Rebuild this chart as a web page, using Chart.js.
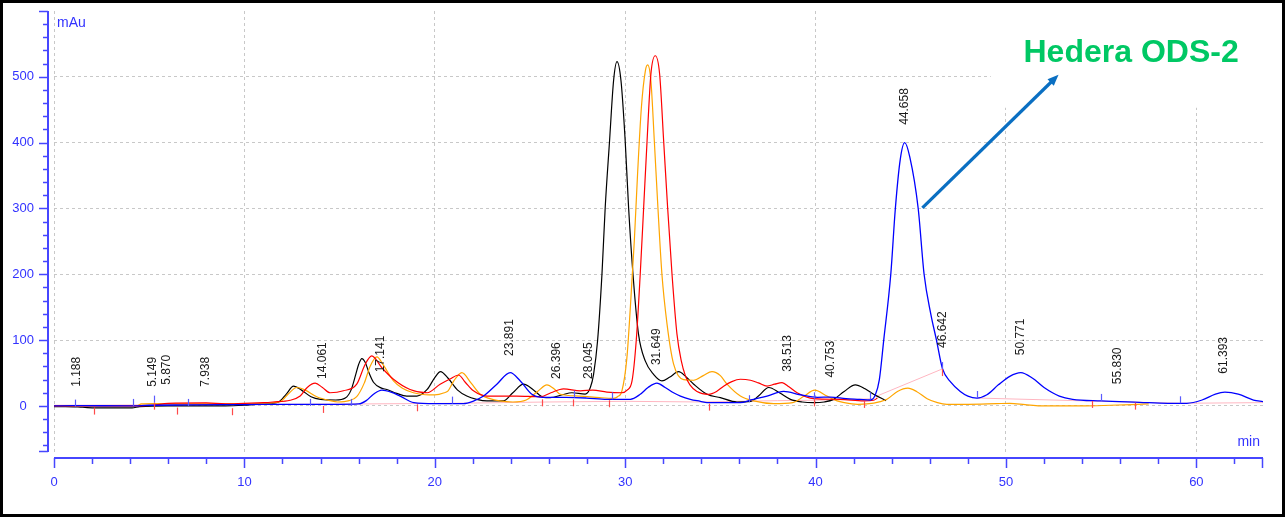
<!DOCTYPE html>
<html><head><meta charset="utf-8">
<script src="https://cdn.jsdelivr.net/npm/chart.js@4.4.1/dist/chart.umd.min.js"></script>
<style>html,body{margin:0;padding:0;background:#fff;}canvas{display:block;}</style>
</head><body>
<canvas id="c" width="1285" height="517"></canvas>
<script>
// ---- data (time in min, signal in mAu) ----
const blackTrace = [[0,-1],[0.6,-1],[1.5,-2],[2.2,-3],[4.1,-3],[4.5,-1],[6,0],[9,0],[10,1],[11,3],[11.8,6],[12.2,18],[12.58,30],[13.0,24],[13.5,14],[14.0,10],[14.8,9],[15.3,12],[15.6,24],[15.85,48],[16.0,63],[16.17,72],[16.35,66],[16.55,50],[16.78,36],[17.2,27],[17.48,25],[18.0,19],[18.53,15],[19.06,15],[19.6,25],[20.0,43],[20.3,52],[20.7,42],[21.2,24],[21.68,15],[22.2,10],[22.74,7.6],[23.6,7.6],[24.1,20],[24.66,33],[25.2,24],[25.71,13],[26.06,12.6],[26.7,17],[27.2,20],[27.9,18],[28.17,28],[28.34,48],[28.55,99],[28.78,200],[28.95,301],[29.18,403],[29.39,494],[29.57,523],[29.78,494],[30.0,403],[30.18,301],[30.41,200],[30.70,109],[31.06,68],[31.49,48],[31.93,38],[32.35,44],[32.81,52],[33.2,44],[33.6,33],[34.3,17.7],[35.0,12.6],[35.87,6],[36.6,7],[37.0,15],[37.54,28],[38.1,20],[38.68,10],[39.3,6],[39.9,5],[40.45,6],[40.95,10],[41.5,22],[42.09,32],[42.6,26],[43.05,17.7],[43.7,8]];
const orangeTrace = [[0,0],[4.3,0],[4.6,3],[5.2,3.5],[7,3],[10,3],[11,4],[11.9,7],[12.3,18],[12.75,28],[13.2,24],[13.8,14],[14.5,8],[14.9,6],[15.5,8],[15.9,14],[16.3,35],[16.6,60],[16.96,74.5],[17.3,62],[17.83,38],[18.3,27],[18.88,20],[19.5,17],[20.0,16.7],[20.5,20],[20.7,23],[21.0,38],[21.42,50.6],[21.9,35],[22.39,17.7],[22.9,11],[23.4,7.6],[24.1,6],[24.8,9],[25.4,22],[25.89,32],[26.3,25],[26.59,17.7],[27.6,15],[28.65,12.6],[29.39,11.6],[29.6,14],[29.83,23],[30.09,73],[30.27,149],[30.48,251],[30.65,352],[30.85,453],[31.06,509],[31.18,518],[31.35,494],[31.53,403],[31.72,301],[31.93,200],[32.2,124],[32.54,64],[33.07,40],[33.6,39],[34.1,46],[34.56,52],[35.0,46],[35.35,33],[36.05,15],[36.75,7.6],[37.8,3.5],[38.8,5],[39.4,15],[39.95,24],[40.6,15],[41.13,7.6],[41.5,5],[42.2,2.5],[42.7,3],[43.4,6.6],[43.75,10],[44.3,22],[44.85,27],[45.3,22],[45.86,11],[46.4,5],[46.9,2.5],[48,2.5],[49.5,3.5],[50.2,4],[51,2],[51.8,0],[54,0],[55.5,1],[56.6,2],[57.5,3]];
const redTrace = [[0,0],[4.5,0],[5.2,1],[6.0,4],[8,4.5],[9,3],[10,4],[11,5],[11.5,6],[12.4,8.6],[12.93,15],[13.3,28],[13.72,34.5],[14.1,28],[14.5,20],[15.2,23],[15.9,33],[16.34,63],[16.69,76],[17.22,58],[17.83,40.5],[18.7,25],[19.6,20],[20.28,33],[20.8,41],[21.25,47],[21.6,36],[22.03,23],[22.74,15],[24.3,15],[25.54,14],[26.1,20],[26.76,26],[27.64,23],[28.3,24],[29.04,21],[29.83,20],[30.1,24],[30.36,38],[30.58,99],[30.79,200],[30.97,301],[31.15,403],[31.35,504],[31.58,532],[31.81,504],[32.02,403],[32.23,301],[32.46,200],[32.72,109],[32.95,68],[33.16,46],[33.4,32],[33.77,22],[34.38,17.7],[34.8,22],[35.17,30],[35.6,37],[36.05,40.5],[36.58,39],[37.0,35],[37.45,30],[37.85,33],[38.24,35.5],[38.6,29],[39.03,20],[39.9,11],[41.3,10],[42.53,7.6],[43.05,8.6],[43.25,12]];
const blueTrace = [[0,0],[1.0,0.5],[4.0,0],[5.0,1],[7.0,1.5],[10,2],[13,2.5],[15,2.5],[16.0,3],[16.4,8],[16.78,17.7],[17.22,24],[17.7,21],[18.18,15],[18.9,5],[20,3.5],[21.5,3.5],[22.0,7],[22.56,15],[23.26,33],[23.96,50.6],[24.49,38],[25.1,17.7],[25.7,13],[26.9,13],[27.96,12],[29.04,10],[30.27,10],[30.79,17.7],[31.2,28],[31.67,34.5],[32.1,28],[32.54,20],[32.9,15],[33.42,10],[33.95,7],[34.3,5],[35.35,5],[36.05,5],[36.6,9],[37.45,15],[38.32,22],[39.2,17],[40.1,13],[40.78,13.5],[41.6,11],[42.3,10],[42.88,9],[43.14,17],[43.35,40],[43.58,100],[43.95,200],[44.19,300],[44.45,375],[44.68,400],[44.95,378],[45.39,300],[45.7,200],[46.05,140],[46.35,100],[46.66,57],[47.1,36],[47.6,22],[48.0,15],[48.47,12],[49.0,17],[49.6,32],[50.2,45],[50.78,50.6],[51.4,42],[52.0,28],[52.8,15],[53.5,10],[55.0,7.6],[57,5.5],[58.5,4],[59.5,4],[60.3,9],[61.0,18],[61.5,21],[62.2,18],[63.0,9],[63.5,6.5]];
const pinkBaseline = [[0,1],[10,2],[16.1,3],[21,4],[26,6],[30,7],[34,6],[38,8],[41,9],[43.1,11],[43.12,null],[43.14,14],[46.64,56],[46.66,null],[48.47,12],[55,7],[59.14,4],[63.5,5]];

const peakTimes  = [1.188,5.149,5.870,7.938,14.061,17.141,23.891,26.396,28.045,31.649,38.513,40.753,44.658,46.642,50.771,55.830,61.393];
const peakLabelAt= [29,29,32,29,41,51,76,41,41,62,52,43,427,88,77,33,49];

const blueMarkTimes = [1.1,4.13,5.27,7.02,13.45,15.59,20.93,27.29,29.3,36.49,39.9,42.88,46.64,48.47,55.0,59.14];
const blueMarkBase  = [-1,0,5,0,0,0,3.5,12.6,10,5.6,10,10,56,12,7.6,4];
const redMarkTimes  = [2.12,5.27,6.45,9.33,14.15,19.09,25.63,27.24,29.13,34.38,39.9,42.53,46.64,54.5,56.77];
const redMarkBase   = [-2.5,5,-2.5,-3.5,0,2.5,10,10,8.6,3.5,10,7.6,56,7.6,5];

const xTicks = [0,10,20,30,40,50,60];
const yTicks = [0,100,200,300,400,500];
const xRange = [0,63.5];
const yRange = [-70,600];

const annotationText = 'Hedera ODS-2';

// ---- styles ----
const AXIS = '#4646ff', TXT = '#3232ff';
const FONT = '"Liberation Sans", Arial, sans-serif';
const toXY = a => a.map(p => ({x:p[0], y:p[1]}));
function ds(arr, color, order, w){
  return {data:toXY(arr), borderColor:color, borderWidth:w||1.2, pointRadius:0, fill:false,
    cubicInterpolationMode:'monotone', tension:0.4, order:order, spanGaps:false};
}

const axesPlugin = {
  id:'axesPlugin',
  beforeDatasetsDraw(chart){
    const {ctx, scales:{x,y}} = chart;
    ctx.save(); ctx.fillStyle = '#fff';
    const l = x.getPixelForValue(49.2), t = y.getPixelForValue(600), b = y.getPixelForValue(453);
    ctx.fillRect(l, t-2, x.getPixelForValue(63.5)+2-l, b-t+2);
    ctx.restore();
  },
  afterDatasetsDraw(chart){
    const {ctx, scales:{x,y}} = chart;
    ctx.save();
    ctx.lineWidth = 1.2;
    ctx.strokeStyle = '#5a5aff';
    blueMarkTimes.forEach((t,i)=>{
      const px = Math.round(x.getPixelForValue(t))+0.5, py = y.getPixelForValue(blueMarkBase[i]);
      ctx.beginPath(); ctx.moveTo(px,py); ctx.lineTo(px,py-7); ctx.stroke();
    });
    ctx.strokeStyle = '#ff4a4a';
    redMarkTimes.forEach((t,i)=>{
      const px = Math.round(x.getPixelForValue(t))+0.5, py = y.getPixelForValue(redMarkBase[i]);
      ctx.beginPath(); ctx.moveTo(px,py); ctx.lineTo(px,py+7); ctx.stroke();
    });
    ctx.fillStyle = '#1a1a1a';
    ctx.font = '12px ' + FONT;
    ctx.textAlign = 'left'; ctx.textBaseline = 'middle';
    peakTimes.forEach((t,i)=>{
      const px = x.getPixelForValue(t), py = y.getPixelForValue(peakLabelAt[i]);
      ctx.save(); ctx.translate(px,py); ctx.rotate(-Math.PI/2);
      ctx.fillText(t.toFixed(3),0,0.5); ctx.restore();
    });
    ctx.restore();
  },
  afterDraw(chart){
    const {ctx, scales:{x,y}} = chart;
    ctx.save();
    const ax = x.getPixelForValue(0) - 6;
    const ay = y.getPixelForValue(yRange[0]) + 6;
    ctx.strokeStyle = AXIS; ctx.lineWidth = 2;
    const yt = y.getPixelForValue(yRange[1]), yb = y.getPixelForValue(yRange[0]);
    ctx.beginPath(); ctx.moveTo(ax, yt); ctx.lineTo(ax, yb); ctx.stroke();
    ctx.lineWidth = 1.5;
    for(let v=-60; v<=600; v+=20){
      const py = Math.round(y.getPixelForValue(v))+0.5;
      const len = (v%100===0) ? 9 : 5;
      ctx.beginPath(); ctx.moveTo(ax-len, py); ctx.lineTo(ax, py); ctx.stroke();
    }
    {const py=Math.round(yb)-0.5;ctx.beginPath();ctx.moveTo(ax-9,py);ctx.lineTo(ax,py);ctx.stroke();}
    ctx.lineWidth = 2;
    const xl = x.getPixelForValue(xRange[0]), xr = x.getPixelForValue(xRange[1]);
    ctx.beginPath(); ctx.moveTo(xl, ay); ctx.lineTo(xr, ay); ctx.stroke();
    ctx.lineWidth = 1.5;
    for(let t=0; t<=62; t+=2){
      const px = Math.round(x.getPixelForValue(t))+0.5;
      const len = (t%10===0) ? 10 : 6;
      ctx.beginPath(); ctx.moveTo(px, ay); ctx.lineTo(px, ay+len); ctx.stroke();
    }
    {const px = Math.round(xr)-0.5; ctx.beginPath(); ctx.moveTo(px, ay); ctx.lineTo(px, ay+10); ctx.stroke();}
    ctx.fillStyle = TXT; ctx.font = '14px ' + FONT;
    ctx.textBaseline = 'alphabetic';
    ctx.textAlign = 'left'; ctx.fillText('mAu', xl+3, yt+16);
    ctx.textAlign = 'right'; ctx.fillText('min', xr-3, ay-12);
    const sx = x.getPixelForValue(45.61), sy = y.getPixelForValue(301);
    const ex = x.getPixelForValue(52.76), ey = y.getPixelForValue(503);
    const ang = Math.atan2(ey-sy, ex-sx);
    ctx.strokeStyle = '#0a6fc2'; ctx.fillStyle = '#0a6fc2'; ctx.lineWidth = 3.2;
    const hl = 11;
    ctx.beginPath(); ctx.moveTo(sx,sy); ctx.lineTo(ex - hl*0.8*Math.cos(ang), ey - hl*0.8*Math.sin(ang)); ctx.stroke();
    ctx.beginPath(); ctx.moveTo(ex,ey);
    ctx.lineTo(ex - hl*Math.cos(ang) + 4.5*Math.sin(ang), ey - hl*Math.sin(ang) - 4.5*Math.cos(ang));
    ctx.lineTo(ex - hl*Math.cos(ang) - 4.5*Math.sin(ang), ey - hl*Math.sin(ang) + 4.5*Math.cos(ang));
    ctx.closePath(); ctx.fill();
    ctx.fillStyle = '#00c864'; ctx.font = 'bold 32px ' + FONT;
    ctx.textAlign = 'left';
    ctx.fillText(annotationText, x.getPixelForValue(50.92), y.getPixelForValue(522.5));
    ctx.strokeStyle = '#000'; ctx.lineWidth = 3;
    ctx.strokeRect(1.5, 1.5, chart.width-3, chart.height-3);
    ctx.restore();
  }
};

new Chart(document.getElementById('c'), {
  type:'line',
  data:{ datasets:[
    ds(blueTrace,'#0000ff',1,1.3),
    ds(redTrace,'#ff0000',2),
    ds(orangeTrace,'#ffa500',3),
    ds(blackTrace,'#000000',4),
    Object.assign(ds(pinkBaseline,'#ffb6c1',5,1), {cubicInterpolationMode:'default', tension:0})
  ]},
  options:{
    responsive:false, animation:false, events:[],
    layout:{padding:{left:0, top:11, right:22, bottom:0}},
    plugins:{legend:{display:false}, tooltip:{enabled:false}},
    scales:{
      x:{type:'linear', min:xRange[0], max:xRange[1],
        afterBuildTicks:s=>{s.ticks = xTicks.map(v=>({value:v}));},
        afterFit:s=>{s.height = 65;},
        grid:{color:'#c8c8c8', lineWidth:1, drawTicks:true, tickLength:23, tickColor:'rgba(0,0,0,0)'},
        border:{display:false, dash:[3,3]},
        ticks:{color:TXT, padding:0, maxRotation:0, font:{family:FONT, size:13}, callback:v=>String(v)}
      },
      y:{type:'linear', min:yRange[0], max:yRange[1],
        afterBuildTicks:s=>{s.ticks = yTicks.map(v=>({value:v}));},
        afterFit:s=>{s.width = 54;},
        grid:{color:'#c8c8c8', lineWidth:1, drawTicks:true, tickLength:20, tickColor:'rgba(0,0,0,0)'},
        border:{display:false, dash:[3,3]},
        ticks:{color:TXT, padding:0, crossAlign:'center', font:{family:FONT, size:13}, callback:v=>String(v)}
      }
    }
  },
  plugins:[axesPlugin]
});
</script>
</body></html>
